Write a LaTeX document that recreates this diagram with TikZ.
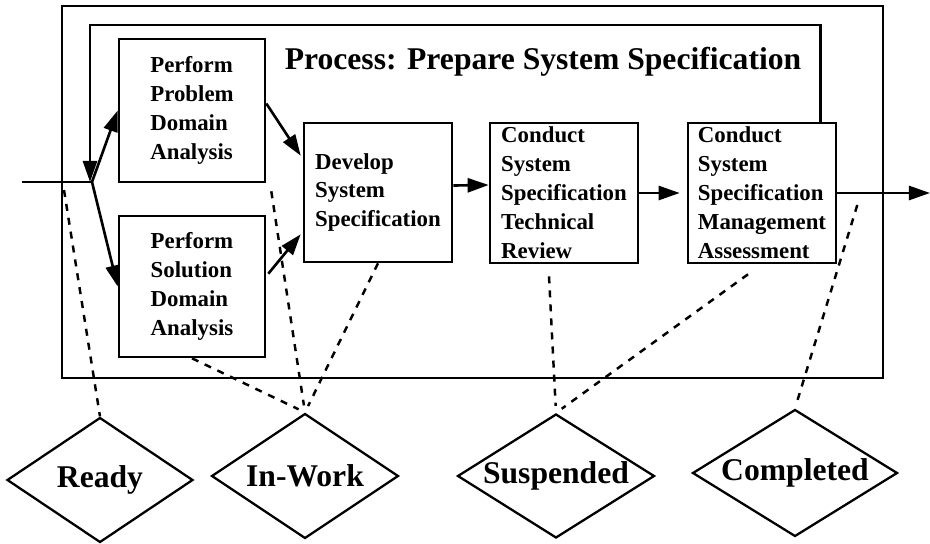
\documentclass[tikz,border=0pt]{standalone}
\usepackage{fontspec}
\setmainfont{Liberation Serif}
\usetikzlibrary{arrows.meta,calc,shapes.geometric}

\begin{document}
\begin{tikzpicture}[x=0.02cm,y=-0.02cm,
        box/.style={draw,line width=1.5pt,align=left,inner sep=0pt,font=\fontsize{13}{16.5}\selectfont\bfseries},
        state/.style={draw,diamond,line width=1.3pt,aspect=1.6,inner sep=0pt,minimum height=2.5cm,font=\fontsize{18}{20}\selectfont\bfseries},
        arr/.style={line width=1.5pt,-{Triangle[length=12pt,width=8pt]}},
        link/.style={line width=1.4pt,dash pattern=on 4pt off 4pt}]
        \useasboundingbox (0,0) rectangle (930,544);
        % frame
        \node [draw,line width=1.5pt,minimum width=16.42cm,minimum height=7.44cm] (proc) at (472.5,192) {};
        \node [font=\fontsize{18}{20}\selectfont\bfseries] (title) at (543,62) {Process: Prepare System Specification};
        % boxes
        \node [box,minimum width=2.92cm,minimum height=2.86cm] (prob) at (192,110.5) {Perform\\Problem\\Domain\\Analysis};
        \node [box,minimum width=2.92cm,minimum height=2.82cm] (sol) at (192,286.5) {Perform\\Solution\\Domain\\Analysis};
        \node [box,minimum width=2.96cm,minimum height=2.78cm] (dev) at (378,192.5) {Develop\\System\\Specification};
        \node [box,minimum width=2.96cm,minimum height=2.8cm] (rev) at (564,193) {Conduct\\System\\Specification\\Technical\\Review};
        \node [box,minimum width=2.96cm,minimum height=2.8cm] (mgmt) at (762,193) {Conduct\\System\\Specification\\Management\\Assessment};
        % states
        \node [state,minimum width=3.72cm] (ready) at (100,480) {Ready};
        \node [state,minimum width=3.74cm] (inwork) at (305,476) {In-Work};
        \node [state,minimum width=3.94cm,minimum height=2.48cm] (susp) at (556,476) {Suspended};
        \node [state,minimum width=4.1cm,minimum height=2.54cm] (done) at (795,473) {Completed};
        % flow
        \coordinate (in) at (22,182);
        \coordinate (split) at (92,182);
        \coordinate (out) at (930,193);
        \coordinate (loop) at (90,25);
        \coordinate (fb) at ($(mgmt.north east)+(-17,0)$);
        \draw [line width=1.5pt] (in) -- (split);
        \draw [arr] (split) -- (prob.west);
        \draw [arr] (split) -- (sol.west);
        \draw [arr] (fb) |- (loop) -- (loop |- split);
        \draw [arr] ($(prob.east)+(0,-7)$) -- ($(dev.north west)+(-2,34)$);
        \draw [arr] ($(sol.north east)+(2,59)$) -- ($(dev.south west)+(-2,-29)$);
        \draw [arr] ($(dev.east)+(0,-7)$) -- ($(rev.west)+(0,-8)$);
        \draw [arr] (rev.east) -- ($(mgmt.west)+(-7,0)$);
        \draw [arr] (mgmt.east) -- (mgmt.east -| out);
        % states links
        \coordinate (rdy) at (64,190);
        \draw [link] (rdy) -- (ready.north);
        \draw [link,shorten >=4pt] (sol.south) -- (inwork.north);
        \draw [link,shorten >=4pt] ($(prob.south east)+(5,8)$) -- (inwork.north);
        \draw [link,shorten >=4pt] (dev.south) -- (inwork.north);
        \draw [link,shorten >=4pt] ($(rev.south)+(-15,12)$) -- (susp.north);
        \draw [link,shorten >=4pt] ($(mgmt.south)+(-14,10)$) -- (susp.north);
        \draw [link,shorten >=4pt] ($(mgmt.east)+(20,12)$) -- (done.north);
\end{tikzpicture}
\end{document}
